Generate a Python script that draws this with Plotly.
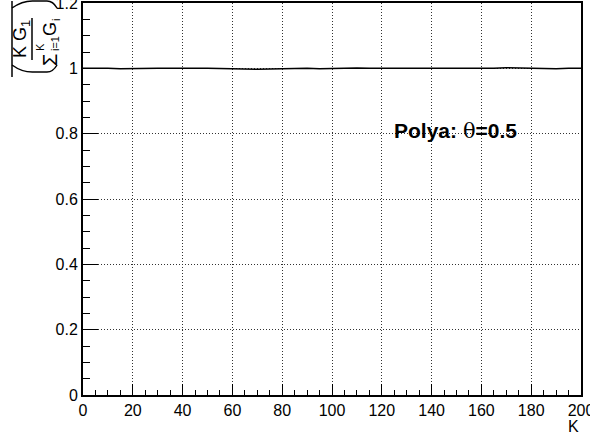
import plotly.graph_objects as go

# Data
k_values = list(range(0, 201, 5))
ratio_values = [1.000, 1.001, 1.000, 0.999, 1.000, 1.001, 1.000, 1.000, 0.999, 1.000,
                1.000, 0.999, 0.997, 0.996, 0.997, 0.998, 0.999, 1.000, 1.000, 0.999,
                1.000, 1.000, 1.001, 1.000, 0.999, 1.000, 1.000, 1.000, 0.999, 1.000,
                1.000, 1.001, 1.000, 1.000, 1.002, 1.001, 1.000, 1.000, 0.999, 1.000, 1.000]

x_ticks = list(range(0, 201, 20))
x_ticktext = [str(v) for v in x_ticks]
y_ticks = [0, 0.2, 0.4, 0.6, 0.8, 1.0, 1.2]
y_ticktext = ["0", "0.2", "0.4", "0.6", "0.8", "1", "1.2"]

FONT = "Liberation Sans, Arial, sans-serif"
L, T = 83, 3  # plot-area left / top in pixels

fig = go.Figure()
fig.add_trace(go.Scatter(x=k_values, y=ratio_values, mode="lines",
                         line=dict(color="black", width=1.5), showlegend=False))

axis_common = dict(
    showline=True, linecolor="black", linewidth=2, mirror=True,
    ticks="inside", tickcolor="black", tickwidth=1,
    showgrid=True, gridcolor="#333333", griddash="1px,2px", gridwidth=1,
    zeroline=False, tickfont=dict(family=FONT, size=16, color="black"),
    ticklabeloverflow="allow", automargin=False,
)

fig.update_layout(
    width=590, height=438,
    margin=dict(l=L, r=9, t=T, b=43),
    paper_bgcolor="white", plot_bgcolor="white",
    xaxis=dict(range=[0, 200], tickvals=x_ticks, ticktext=x_ticktext, ticklen=11,
               minor=dict(ticks="inside", dtick=5, ticklen=5, tickcolor="black", showgrid=False),
               **axis_common),
    yaxis=dict(range=[0, 1.2], tickvals=y_ticks, ticktext=y_ticktext, ticklen=15,
               minor=dict(ticks="inside", dtick=0.05, ticklen=7, tickcolor="black", showgrid=False),
               **axis_common),
)

# x-axis title
fig.add_annotation(text="K", xref="paper", yref="paper", x=1, y=0, xanchor="right",
                   yanchor="middle", yshift=-31, showarrow=False,
                   font=dict(family=FONT, size=16, color="black"))

# Polya label
fig.add_annotation(text="<b>Polya:</b> <span style='font-family:DejaVu Serif, serif'>θ</span><b>=0.5</b>",
                   xref="x", yref="y", x=124, y=0.808, xanchor="left", yanchor="middle",
                   showarrow=False, font=dict(family=FONT, size=21, color="black"))


def rot_text(txt, cx, cy, size):
    fig.add_annotation(text=txt, xref="paper", yref="paper", x=0, y=1,
                       xanchor="center", yanchor="middle", xshift=cx - L, yshift=T - cy,
                       textangle=-90, showarrow=False,
                       font=dict(family=FONT, size=size, color="black"))


# y-axis title: (K G1 / sum_{i=1}^K G_i), rotated
rot_text("K G<sub>1</sub>", 21, 39, 18)
rot_text("Σ", 50, 60, 20)
rot_text("K", 40, 47, 11)
rot_text("i=1", 55, 44, 11)
rot_text("G", 50, 29, 18)
rot_text("i", 56, 20, 11)

# fraction bar
fig.add_shape(type="line", xref="paper", yref="paper", xsizemode="pixel", ysizemode="pixel",
              xanchor=0, yanchor=1, x0=-51, x1=-51, y0=-15, y1=-57,
              line=dict(color="black", width=1.5))
# bracket vertical line
fig.add_shape(type="line", xref="paper", yref="paper", xsizemode="pixel", ysizemode="pixel",
              xanchor=0, yanchor=1, x0=-71, x1=-71, y0=2, y1=-74,
              line=dict(color="black", width=1.5))
# bottom arc
fig.add_shape(type="path", xref="paper", yref="paper", xsizemode="pixel", ysizemode="pixel",
              xanchor=0, yanchor=1,
              path="M -71,-62 Q -60,-70 -48,-69 L -36,-69 Q -30,-69 -26,-62",
              line=dict(color="black", width=1.5))
# top arc
fig.add_shape(type="path", xref="paper", yref="paper", xsizemode="pixel", ysizemode="pixel",
              xanchor=0, yanchor=1,
              path="M -71,-5 Q -60,3 -48,2 L -36,2 Q -30,2 -26,-5",
              line=dict(color="black", width=1.5))

fig.write_html("out.html")
